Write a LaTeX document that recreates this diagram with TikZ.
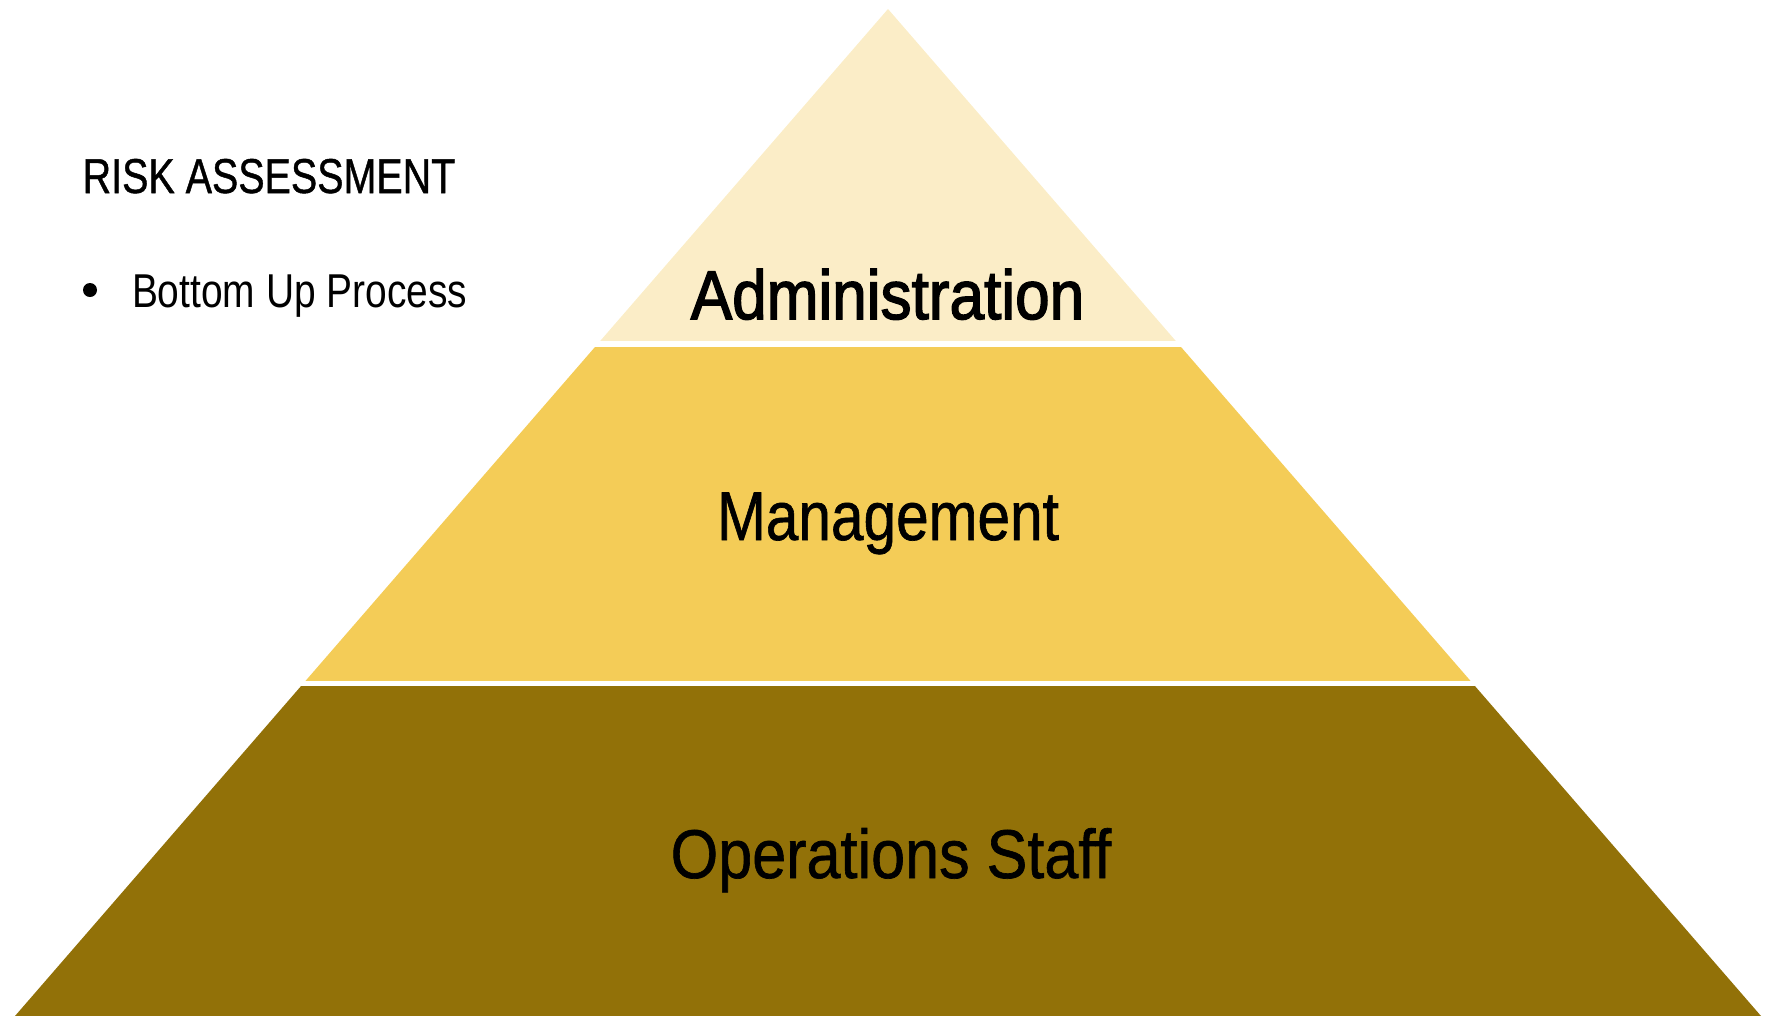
\documentclass[tikz,border=0pt]{standalone}
\usepackage{fontspec}
\setmainfont{Liberation Sans}
\newfontfamily\regb[FakeBold=1]{Liberation Sans}
\newfontfamily\semib[FakeBold=2.2]{Liberation Sans}
\definecolor{adminc}{HTML}{FBEDC7}
\definecolor{mgmtc}{HTML}{F4CC57}
\definecolor{opsc}{HTML}{927108}
\tikzset{
  lbl/.style={inner sep=0pt, outer sep=0pt, anchor=base, text=black},
  side/.style={inner sep=0pt, outer sep=0pt, anchor=base west, text=black}
}
\newcommand{\sq}[3]{\scalebox{#1}[1]{\fontsize{#2bp}{#2bp}\selectfont #3}}
\begin{document}
\begin{tikzpicture}[x=1bp,y=-1bp]
\useasboundingbox (0,0) rectangle (1766,1016);
\coordinate (apex) at (888,9);
\coordinate (bl) at (15,1016);
\coordinate (br) at (1761,1016);
\begin{scope}
\clip (apex) -- (br) -- (bl) -- cycle;
\fill[adminc] (0,0) rectangle (1766,341);
\fill[mgmtc] (0,347) rectangle (1766,681);
\fill[opsc] (0,686) rectangle (1766,1016);
\end{scope}
\node[lbl] (admin) at (887.5,319) {\sq{0.9}{69}{\semib Administration}};
\node[lbl] (mgmt) at (888,540) {\sq{0.849}{69}{\regb Management}};
\node[lbl] (ops) at (891,878) {\sq{0.886}{69}{\regb Operations Staff}};
\node[side] (title) at (82.7,193) {\sq{0.805}{49}{\regb RISK ASSESSMENT}};
\fill[black] (90,290) circle (7);
\node[side] (item) at (132,307) {\sq{0.819}{47.5}{Bottom Up Process}};
\end{tikzpicture}
\end{document}
